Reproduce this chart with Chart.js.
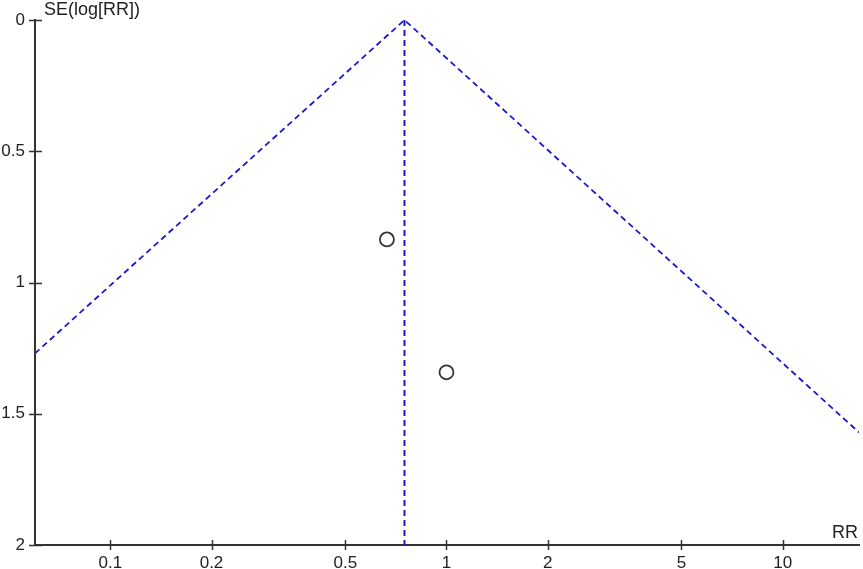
<!DOCTYPE html>
<html>
<head>
<meta charset="utf-8">
<title>Funnel plot</title>
<script src="https://cdn.jsdelivr.net/npm/chart.js@4.4.4/dist/chart.umd.min.js"></script>
<style>
  html, body { margin: 0; padding: 0; background: #fff; }
  canvas { display: block; }
</style>
</head>
<body>
<canvas id="funnel" width="863" height="569"></canvas>
<script>
// Study estimates
var studyRR = [0.665, 1.0];
var studySE = [0.836, 1.342];

// Pooled estimate and funnel (95% pseudo-CI) limits where they meet the frame
var pooledRR = 0.75;
var funnelRR = [0.0597, 0.75, 16.87];
var funnelSE = [1.27, 0, 1.571];

// Axes
var xMin = 0.0597, xMax = 16.87;
var xTicks = [0.1, 0.2, 0.5, 1, 2, 5, 10];
var yTicks = [0, 0.5, 1, 1.5, 2];

var AXIS = '#333333';
var FUNNEL = 'rgb(25, 25, 205)';
var FONT = '"Liberation Sans", Arial, sans-serif';

function pairs(xs, ys) {
  return xs.map(function (x, i) { return { x: x, y: ys[i] }; });
}

// Tick marks that cross the axis line, plus the two axis captions
var funnelAxes = {
  id: 'funnelAxes',
  afterDraw: function (chart) {
    var ctx = chart.ctx;
    var xs = chart.scales.x, ys = chart.scales.y;
    var area = chart.chartArea;
    ctx.save();
    ctx.strokeStyle = AXIS;
    ctx.lineWidth = 1.5;
    ctx.beginPath();
    xTicks.forEach(function (v) {
      var px = Math.round(xs.getPixelForValue(v)) + 0.5;
      ctx.moveTo(px, area.bottom - 5);
      ctx.lineTo(px, area.bottom + 5);
    });
    yTicks.forEach(function (v) {
      var py = Math.round(ys.getPixelForValue(v)) + 0.5;
      ctx.moveTo(area.left - 6, py);
      ctx.lineTo(area.left + 7, py);
    });
    ctx.stroke();

    ctx.fillStyle = '#222';
    ctx.font = '18px ' + FONT;
    ctx.textBaseline = 'middle';
    ctx.textAlign = 'left';
    ctx.fillText('SE(log[RR])', area.left + 9, area.top - 10);
    ctx.textAlign = 'right';
    ctx.fillText('RR', area.right - 1, area.bottom - 12);
    ctx.restore();
  }
};

function noSidePadding(scale) {
  scale.paddingLeft = 0;
  scale.paddingRight = 0;
  scale.paddingTop = 0;
  scale.paddingBottom = 0;
}

new Chart(document.getElementById('funnel'), {
  type: 'scatter',
  data: {
    datasets: [
      {
        label: 'Funnel',
        data: pairs(funnelRR, funnelSE),
        showLine: true,
        borderColor: FUNNEL,
        borderWidth: 1.8,
        borderDash: [6, 4],
        pointRadius: 0,
        fill: false
      },
      {
        label: 'Pooled',
        data: pairs([pooledRR, pooledRR], [0, 2]),
        showLine: true,
        borderColor: FUNNEL,
        borderWidth: 2,
        borderDash: [6, 4],
        pointRadius: 0,
        fill: false
      },
      {
        label: 'Studies',
        data: pairs(studyRR, studySE),
        pointStyle: 'circle',
        pointRadius: 7,
        pointBorderWidth: 1.8,
        borderColor: '#333',
        backgroundColor: 'rgba(255,255,255,0)'
      }
    ]
  },
  options: {
    responsive: false,
    animation: false,
    layout: {
      autoPadding: false,
      padding: { top: 20, right: 4, left: 0, bottom: 0 }
    },
    plugins: {
      legend: { display: false },
      tooltip: { enabled: false }
    },
    scales: {
      x: {
        type: 'logarithmic',
        min: xMin,
        max: xMax,
        afterBuildTicks: function (scale) {
          scale.ticks = xTicks.map(function (v) { return { value: v }; });
        },
        afterFit: function (scale) {
          scale.height = 24;
          noSidePadding(scale);
        },
        grid: { display: false, drawTicks: false },
        border: { display: true, color: AXIS, width: 2 },
        ticks: {
          color: '#222',
          padding: 8,
          maxRotation: 0,
          autoSkip: false,
          font: { family: FONT, size: 17 },
          callback: function (v) { return String(v); }
        }
      },
      y: {
        type: 'linear',
        reverse: true,
        min: 0,
        max: 2,
        afterBuildTicks: function (scale) {
          scale.ticks = yTicks.map(function (v) { return { value: v }; });
        },
        afterFit: function (scale) {
          scale.width = 35;
          noSidePadding(scale);
        },
        grid: { display: false, drawTicks: false },
        border: { display: true, color: AXIS, width: 2 },
        ticks: {
          color: '#222',
          padding: 10,
          font: { family: FONT, size: 17 },
          callback: function (v) { return String(v); }
        }
      }
    }
  },
  plugins: [funnelAxes]
});
</script>
</body>
</html>
